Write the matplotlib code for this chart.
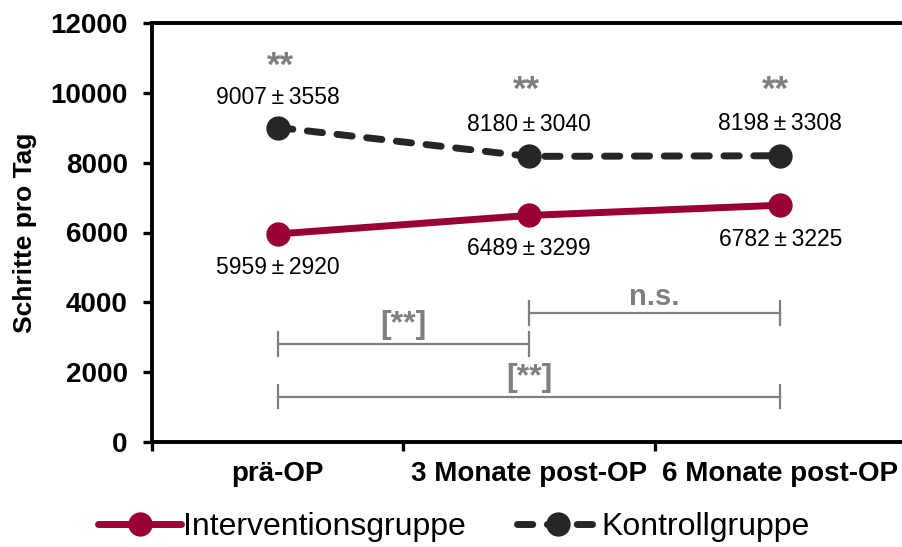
import matplotlib
matplotlib.use("Agg")
import matplotlib.pyplot as plt

plt.rcParams['font.family'] = ['Liberation Sans', 'DejaVu Sans']

categories = ["prä-OP", "3 Monate post-OP", "6 Monate post-OP"]
intervention = [5959, 6489, 6782]
intervention_sd = [2920, 3299, 3225]
kontrolle = [9007, 8180, 8198]
kontrolle_sd = [3558, 3040, 3308]
group_sig = ["**", "**", "**"]
brackets = [(0, 1, 2800, "[**]"), (1, 2, 3700, "n.s."), (0, 2, 1300, "[**]")]
yticks = [0, 2000, 4000, 6000, 8000, 10000, 12000]

W, H = 902, 547
fig = plt.figure(figsize=(W/100, H/100), dpi=100)
ax = fig.add_axes([152/W, 1-442/H, (906-152)/W, (442-23)/H])

x = [i + 0.5 for i in range(len(categories))]
red = "#990033"
dark = "#262626"
gray = "#7f7f7f"

ax.plot(x, intervention, color=red, lw=5, marker='o', ms=16.5, solid_capstyle='round',
        label="Interventionsgruppe", zorder=3)
ax.plot(x, kontrolle, color=dark, lw=5, marker='o', ms=16.5, ls=(0, (2.2, 2.1)),
        dash_capstyle='round', label="Kontrollgruppe", zorder=3)

# value labels (offsets in data units from the point)
kon_off = [850, 920, 910]
int_off = [-950, -940, -970]
for xi, m, s, o in zip(x, kontrolle, kontrolle_sd, kon_off):
    ax.text(xi, m + o, f"{m}\u2009±\u2009{s}", ha='center', va='center', fontsize=16.5)
for xi, m, s, o in zip(x, intervention, intervention_sd, int_off):
    ax.text(xi, m + o, f"{m}\u2009±\u2009{s}", ha='center', va='center', fontsize=16.5)

sig_y = [10500, 9790, 9790]
sig_dx = [0.01, -0.01, -0.02]
for xi, t, yy, dx in zip(x, group_sig, sig_y, sig_dx):
    ax.text(xi + dx, yy, t, ha='center', va='baseline', fontsize=25, fontweight='bold', color=gray)

txt_off = {"[**]": 310, "n.s.": 230}
for a, b, yy, t in brackets:
    ax.plot([x[a], x[b]], [yy, yy], color=gray, lw=1.6, zorder=2)
    for xe in (x[a], x[b]):
        ax.plot([xe, xe], [yy - 340, yy + 340], color=gray, lw=1.6, zorder=2)
    ax.text((x[a] + x[b]) / 2, yy + txt_off[t], t, ha='center', va='baseline',
            fontsize=23 if t != "n.s." else 21, fontweight='bold', color=gray)

ax.set_xlim(0, 3)
ax.set_ylim(0, 12000)
ax.set_yticks(yticks)
ax.set_yticklabels([str(v) for v in yticks], fontsize=20, fontweight='bold')
ax.set_xticks([0, 1, 2, 3])
ax.set_xticklabels([])
ax.set_xticks(x, minor=True)
ax.set_xticklabels(categories, minor=True, fontsize=20, fontweight='bold')
ax.tick_params(axis='x', which='minor', length=0, pad=14)
ax.tick_params(axis='y', which='major', pad=11)
ax.tick_params(axis='both', which='major', length=6.5, width=2.4, direction='out')
for sp in ax.spines.values():
    sp.set_linewidth(2.8)
ax.set_ylabel("Schritte pro Tag", fontsize=19, fontweight='bold')
ax.yaxis.set_label_coords(-0.152, 0.5)

fig.legend(loc='center', bbox_to_anchor=(454/W, 1-527/H), ncol=2, frameon=False,
           fontsize=23, handlelength=2.6, columnspacing=1.6, handletextpad=0.05)

fig.savefig("out.png", dpi=100)
